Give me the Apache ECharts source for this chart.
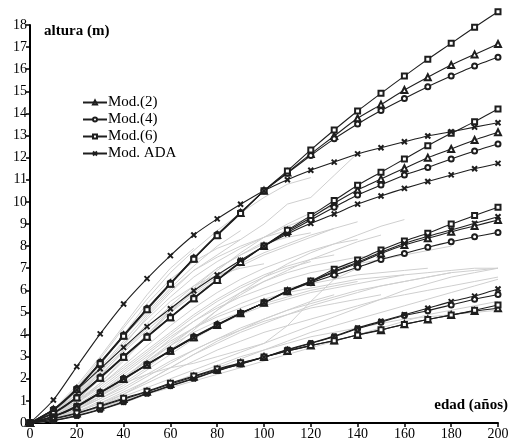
<!DOCTYPE html>
<html>
<head>
<meta charset="utf-8">
<script src="https://cdn.jsdelivr.net/npm/echarts@6/dist/echarts.min.js"></script>
<style>html,body{margin:0;padding:0;background:#fff}#c{width:514px;height:443px}</style>
</head>
<body>
<div id="c"></div>
<script>
// ages (años) at which model values are given
const ages = [0,10,20,30,40,50,60,70,80,90,100,110,120,130,140,150,160,170,180,190,200];
const xTicks = [0,20,40,60,80,100,120,140,160,180,200];

// Mod.(2) – four site-index curves
const mod2_g1 = [0,0.6,1.54,2.72,3.96,5.16,6.31,7.44,8.5,9.5,10.5,11.33,12.17,12.98,13.78,14.4,15.06,15.64,16.19,16.67,17.14];
const mod2_g2 = [0,0.45,1.16,2.05,3.0,3.9,4.78,5.64,6.47,7.28,8.0,8.68,9.28,9.94,10.54,11.04,11.52,12.0,12.39,12.8,13.15];
const mod2_g3 = [0,0.29,0.74,1.37,1.99,2.64,3.27,3.88,4.43,4.96,5.44,5.96,6.38,6.82,7.22,7.67,8.05,8.35,8.65,8.91,9.18];
const mod2_g4 = [0,0.18,0.43,0.75,1.08,1.41,1.76,2.09,2.41,2.7,2.98,3.26,3.5,3.73,3.98,4.2,4.47,4.68,4.88,5.06,5.19];
// Mod.(4)
const mod4_g1 = [0,0.62,1.56,2.75,3.98,5.18,6.33,7.46,8.52,9.52,10.5,11.3,12.1,12.85,13.52,14.13,14.68,15.21,15.69,16.15,16.54];
const mod4_g2 = [0,0.47,1.18,2.08,3.02,3.92,4.8,5.66,6.48,7.29,8.0,8.62,9.18,9.76,10.31,10.76,11.22,11.56,11.94,12.3,12.62];
const mod4_g3 = [0,0.3,0.76,1.39,2.01,2.66,3.29,3.9,4.45,4.97,5.44,5.94,6.34,6.69,7.04,7.4,7.67,7.95,8.2,8.42,8.62];
const mod4_g4 = [0,0.12,0.34,0.62,0.96,1.34,1.69,2.02,2.37,2.67,2.98,3.3,3.6,3.9,4.26,4.56,4.86,5.08,5.34,5.6,5.81];
// Mod.(6)
const mod6_g1 = [0,0.57,1.5,2.68,3.92,5.12,6.27,7.41,8.47,9.47,10.5,11.4,12.35,13.25,14.11,14.91,15.69,16.45,17.17,17.9,18.6];
const mod6_g2 = [0,0.43,1.13,2.02,2.97,3.88,4.76,5.62,6.45,7.26,8.0,8.72,9.38,10.06,10.75,11.34,11.94,12.54,13.1,13.63,14.2];
const mod6_g3 = [0,0.28,0.72,1.35,1.97,2.62,3.25,3.86,4.41,4.95,5.44,5.98,6.42,6.95,7.37,7.82,8.23,8.58,9.0,9.38,9.76];
const mod6_g4 = [0,0.2,0.45,0.78,1.12,1.44,1.8,2.12,2.44,2.72,2.98,3.26,3.5,3.72,3.98,4.22,4.46,4.68,4.88,5.1,5.34];
// Mod. ADA
const ada_g1 = [0,1.04,2.55,4.03,5.38,6.53,7.57,8.5,9.23,9.89,10.5,11.0,11.43,11.8,12.17,12.45,12.72,12.98,13.17,13.38,13.58];
const ada_g2 = [0,0.6,1.5,2.45,3.42,4.36,5.17,5.98,6.69,7.36,8.0,8.55,9.03,9.45,9.9,10.27,10.61,10.92,11.22,11.5,11.74];
const ada_g3 = [0,0.3,0.78,1.38,2.0,2.64,3.26,3.86,4.42,4.95,5.44,5.97,6.4,6.86,7.27,7.72,8.12,8.45,8.73,9.03,9.33];
const ada_g4 = [0,0.11,0.32,0.6,0.94,1.32,1.67,2.0,2.35,2.66,2.98,3.32,3.62,3.93,4.3,4.6,4.9,5.19,5.49,5.74,6.06];

// observed stem-analysis trees: heights every 10 years from age 0
const observed = [
  [0,0.6,1.6,2.9,4.3,5.6,6.8,7.8,8.7,9.5,10.2,10.8,11.1],
  [0,0.4,1.2,2.3,3.5,4.8,5.9,6.9,7.6,8.3,9.0,9.9,10.2,11.2,12.2],
  [0,0.5,1.3,2.4,3.6,4.7,5.7,6.6,7.3,7.9,8.4,8.9,9.3],
  [0,0.3,1.0,2.0,3.0,4.0,5.0,5.8,6.5,7.1,7.6,8.0,8.4,8.8,9.1],
  [0,0.4,1.1,2.1,3.3,4.5,5.5,6.2,6.7,7.0,7.2],
  [0,0.3,0.9,1.7,2.6,3.5,4.4,5.2,5.9,6.5,7.0,7.4,7.8,8.1,8.3],
  [0,0.3,0.8,1.5,2.3,3.1,3.9,4.6,5.2,5.7,6.1,6.5,6.8,7.0,7.2,7.4,7.6,7.8,8.0],
  [0,0.2,0.7,1.3,2.0,2.8,3.6,4.3,4.9,5.4,5.8,6.1,6.3,6.5,6.7,6.8,6.9,7.0],
  [0,0.2,0.6,1.1,1.7,2.4,3.1,3.8,4.4,4.9,5.3,5.6,5.9,6.1,6.3,6.5,6.7,6.8,6.9,7.0,7.0],
  [0,0.2,0.5,1.0,1.5,2.1,2.7,3.3,3.8,4.3,4.7,5.1,5.4,5.7,6.0,6.2,6.4,6.6,6.8,6.9,7.0],
  [0,0.2,0.5,0.9,1.3,1.8,2.3,2.8,3.3,3.7,4.1,4.4,4.7,5.0,5.3,5.6,5.8,6.0,6.2,6.4,6.6],
  [0,0.1,0.4,0.7,1.0,1.4,1.8,2.2,2.6,3.0,3.3,3.6,3.9,4.1,4.3,4.5,4.7,4.8,4.9,5.0,5.1],
  [0,0.1,0.4,0.8,1.2,1.6,2.0,2.4,2.8,3.2,3.6,4.0,4.4,4.8,5.2,5.6,6.0,6.3,6.6,6.8,7.0],
  [0,0.3,0.8,1.3,1.8,2.2,2.5,2.7,3.0,3.3,3.6,4.4,5.5,6.5,7.0],
  [0,0.5,1.4,2.5,3.7,4.9,6.0,6.9,7.5,8.0,8.4,8.7],
  [0,0.4,1.2,2.2,3.2,4.2,5.1,5.9,6.6,7.2,7.7,8.1,8.5,8.8],
  [0,0.3,0.9,1.6,2.4,3.2,4.0,4.8,5.5,6.1,6.6,7.0,7.3],
  [0,0.3,0.8,1.4,2.1,2.8,3.5,4.1,4.6,5.0,5.4,5.7,6.0,6.2,6.4],
  [0,0.2,0.6,1.1,1.6,2.2,2.8,3.3,3.8,4.2,4.6,4.9,5.2,5.4,5.6,5.8],
  [0,0.2,0.5,0.9,1.4,1.9,2.5,3.1,3.7,4.2,4.7,5.1,5.5,5.8],
  [0,0.5,1.5,2.7,3.9,5.0,6.1,7.1,8.0,8.7],
  [0,0.6,1.7,3.0,4.4,5.8,7.0,7.9],
  [0,0.4,1.3,2.6,4.0,5.4,6.5,7.3,7.9,8.3],
  [0,0.2,0.6,1.2,1.9,2.7,3.5,4.3,5.1,5.8,6.4,6.9,7.4,7.8,8.2,8.5],
  [0,0.1,0.3,0.6,0.9,1.3,1.7,2.1,2.5,2.9,3.3,3.7,4.1,4.4,4.7,5.0,5.3,5.6,5.9,6.2,6.5],
  [0,0.2,0.4,0.7,1.0,1.3,1.6,1.9,2.2,2.5,2.8,3.1,3.4,3.7,4.0,4.3,4.6,4.9,5.1,5.3,5.5],
  [0,0.3,0.7,1.2,1.8,2.5,3.3,4.2,5.1,5.9,6.6,7.2,7.7,8.1,8.5,8.9,9.2],
  [0,0.4,1.0,1.8,2.8,3.9,5.0,6.0,6.9,7.7,8.4,9.0,9.5,9.8],
  [0,0.3,0.9,1.8,2.9,4.0,5.1,6.1,7.0,7.6,8.1,8.4,8.6],
  [0,0.2,0.6,1.2,2.0,2.9,3.8,4.6,5.3,5.9,6.4,6.8,7.1,7.3,7.5,7.6],
  [0,0.2,0.7,1.4,2.2,3.0,3.7,4.3,4.8,5.2,5.6,5.9,6.1,6.3,6.5,6.6,6.7],
  [0,0.1,0.4,0.8,1.3,1.9,2.5,3.1,3.6,4.1,4.5,4.9,5.3,5.6,5.9,6.2,6.4,6.6,6.8],
  [0,0.5,1.3,2.3,3.3,4.3,5.3,6.2,7.0,7.6,8.2],
  [0,0.4,1.0,1.7,2.5,3.3,4.1,4.9,5.6,6.2,6.7,7.1,7.4,7.6]
];

const models = [
  {name:'Mod.(2)', symbol:'emptyTriangle', size:6, groups:[mod2_g1,mod2_g2,mod2_g3,mod2_g4]},
  {name:'Mod.(4)', symbol:'emptyCircle', size:5, groups:[mod4_g1,mod4_g2,mod4_g3,mod4_g4]},
  {name:'Mod.(6)', symbol:'emptyRect', size:5, groups:[mod6_g1,mod6_g2,mod6_g3,mod6_g4]},
  {name:'Mod. ADA', symbol:'emptyPath://M0,0L10,10M10,0L0,10', size:5, groups:[ada_g1,ada_g2,ada_g3,ada_g4]}
];

const FONT = '"Liberation Serif","DejaVu Serif",serif';
const series = [];
observed.forEach((h, k) => {
  series.push({
    type:'line', name:'obs'+k, silent:true, symbol:'none', z:1,
    lineStyle:{color:'#cfcfcf', width:1},
    data: h.map((v,i)=>[i*10, v])
  });
});
models.forEach(m => {
  m.groups.forEach(g => {
    series.push({
      type:'line', name:m.name, symbol:m.symbol, symbolSize:m.size, smooth:0.2, z:5,
      clip:false,
      itemStyle:{color:'#1e1e1e', borderColor:'#1e1e1e', borderWidth:1.3},
      lineStyle:{color:'#1e1e1e', width:1.1},
      data: ages.map((a,i)=>[a, g[i]])
    });
  });
});

const chart = echarts.init(document.getElementById('c'), null, {renderer:'canvas'});
chart.setOption({
  animation:false,
  backgroundColor:'#fff',
  grid:{left:30, right:16, top:25, bottom:20, containLabel:false},
  legend:{
    data:models.map(m=>m.name), orient:'vertical', left:77, top:90,
    itemWidth:24, itemHeight:5, itemGap:2,
    textStyle:{fontFamily:FONT, fontSize:15, color:'#000', padding:[0,0,0,-4]},
    selectedMode:false
  },
  xAxis:{
    type:'value', min:0, max:200, interval:20,
    axisLine:{lineStyle:{color:'#000', width:2}},
    axisTick:{show:true, length:4, lineStyle:{color:'#000', width:1.5}},
    axisLabel:{fontFamily:FONT, fontSize:14, color:'#000', margin:4},
    splitLine:{show:false}
  },
  yAxis:{
    type:'value', min:0, max:18, interval:1,
    axisLine:{show:true, lineStyle:{color:'#000', width:2}},
    axisTick:{show:true, length:4, lineStyle:{color:'#000', width:1.5}},
    axisLabel:{fontFamily:FONT, fontSize:14, color:'#000', margin:3},
    splitLine:{show:false}
  },
  graphic:[
    {type:'text', left:44, top:24, style:{text:'altura (m)', font:'bold 15px '+FONT, fill:'#000'}},
    {type:'text', right:6, top:398, style:{text:'edad (años)', font:'bold 15px '+FONT, fill:'#000'}}
  ],
  series:series
});
</script>
</body>
</html>
